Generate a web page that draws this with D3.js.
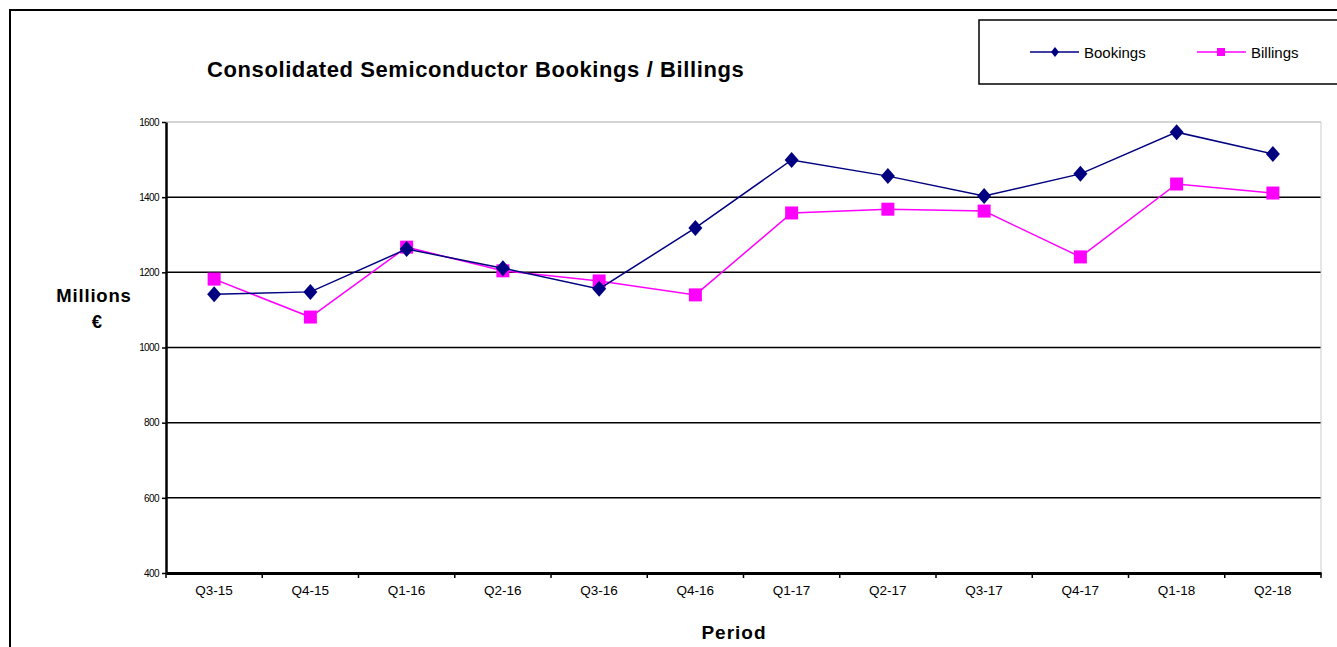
<!DOCTYPE html>
<html><head><meta charset="utf-8">
<script src="https://cdn.jsdelivr.net/npm/d3@7"></script>
<style>body{margin:0;background:#fff;} svg{display:block;font-family:Arial,"Liberation Sans",sans-serif;}</style>
</head><body>
<script>
const categories = ["Q3-15","Q4-15","Q1-16","Q2-16","Q3-16","Q4-16","Q1-17","Q2-17","Q3-17","Q4-17","Q1-18","Q2-18"];
const bookings = [1142,1148,1262,1211,1156,1318,1499,1456,1403,1462,1573,1515];
const billings = [1182,1081,1267,1204,1177,1140,1358,1368,1363,1241,1435,1411];
const yTicks = [400,600,800,1000,1200,1400,1600];

const W=1337,H=647;
const svg=d3.select("body").append("svg").attr("width",W).attr("height",H);
// outer border
svg.append("rect").attr("x",10).attr("y",10).attr("width",1340).attr("height",660)
  .attr("fill","none").attr("stroke","#000").attr("stroke-width",2);

const L=166,R=1321,T=122,B=573;
const x=d3.scaleBand().domain(categories).range([L,R]);
const y=d3.scaleLinear().domain([400,1600]).range([B,T]);

// gridlines
svg.append("g").selectAll("line").data(yTicks.filter(v=>v>400)).join("line")
  .attr("x1",L).attr("x2",R).attr("y1",d=>y(d)).attr("y2",d=>y(d))
  .attr("stroke",d=>d===1600?"#aaa":"#000").attr("stroke-width",d=>d===1600?1:1.5);
// right edge
svg.append("line").attr("x1",R).attr("x2",R).attr("y1",T).attr("y2",B).attr("stroke","#ccc").attr("stroke-width",1);

// y axis
const ya=svg.append("g").attr("transform",`translate(${L},0)`)
  .call(d3.axisLeft(y).tickValues(yTicks).tickFormat(d3.format("d")).tickSize(4).tickPadding(3).tickSizeOuter(0));
ya.select(".domain").attr("stroke","#000").attr("stroke-width",2.5);
ya.selectAll(".tick line").attr("stroke","#000").attr("stroke-width",1.5);
ya.selectAll("text").attr("font-size",10).attr("fill","#000").style("letter-spacing","-0.6px");

// x axis
const xa=svg.append("g").attr("transform",`translate(0,${B})`)
  .call(d3.axisBottom(x).tickSize(0).tickPadding(12).tickSizeOuter(0));
xa.select(".domain").attr("stroke","#000").attr("stroke-width",3);
xa.selectAll("text").attr("font-size",13.5).attr("fill","#000");
svg.append("g").selectAll("line").data(categories.concat([null])).join("line")
  .attr("x1",(d,i)=>L+i*x.step()).attr("x2",(d,i)=>L+i*x.step())
  .attr("y1",B).attr("y2",B+5).attr("stroke","#000").attr("stroke-width",1.5);

const cx=d=>x(d)+x.bandwidth()/2;
const line=d3.line().x((d,i)=>cx(categories[i])).y(d=>y(d));

// Billings
svg.append("path").datum(billings).attr("d",line).attr("fill","none").attr("stroke","#ff00ff").attr("stroke-width",1.5);
svg.append("g").selectAll("rect").data(billings).join("rect")
  .attr("x",(d,i)=>cx(categories[i])-6.5).attr("y",d=>y(d)-6.5).attr("width",13).attr("height",13).attr("fill","#ff00ff");
// Bookings
svg.append("path").datum(bookings).attr("d",line).attr("fill","none").attr("stroke","#000080").attr("stroke-width",1.5);
svg.append("g").selectAll("path.m").data(bookings).join("path")
  .attr("d",(d,i)=>{const px=cx(categories[i]),py=y(d);return `M${px},${py-8}L${px+7},${py}L${px},${py+8}L${px-7},${py}Z`;})
  .attr("fill","#000080");

// Title
svg.append("text").attr("x",207).attr("y",77).attr("font-size",22).attr("font-weight","bold").attr("fill","#000")
  .style("letter-spacing","0.6px").text("Consolidated Semiconductor Bookings / Billings");
// y label
svg.append("text").attr("x",94).attr("y",302).attr("text-anchor","middle").attr("font-size",18.5).attr("font-weight","bold").style("letter-spacing","0.8px").text("Millions");
svg.append("text").attr("x",97).attr("y",328).attr("text-anchor","middle").attr("font-size",18.5).attr("font-weight","bold").text("€");
// x label
svg.append("text").attr("x",734).attr("y",639).attr("text-anchor","middle").attr("font-size",19).attr("font-weight","bold").style("letter-spacing","1px").text("Period");

// Legend
svg.append("rect").attr("x",979).attr("y",20).attr("width",400).attr("height",64).attr("fill","#fff").attr("stroke","#000").attr("stroke-width",1.5);
const lg=svg.append("g");
lg.append("line").attr("x1",1030).attr("x2",1079).attr("y1",52).attr("y2",52).attr("stroke","#000080").attr("stroke-width",1.5);
lg.append("path").attr("d","M1055,47L1059,52L1055,57L1051,52Z").attr("fill","#000080");
lg.append("text").attr("x",1084).attr("y",58).attr("font-size",15).text("Bookings");
lg.append("line").attr("x1",1197).attr("x2",1246).attr("y1",52).attr("y2",52).attr("stroke","#ff00ff").attr("stroke-width",1.5);
lg.append("rect").attr("x",1217).attr("y",48).attr("width",8).attr("height",8).attr("fill","#ff00ff");
lg.append("text").attr("x",1251).attr("y",58).attr("font-size",15).text("Billings");
</script>
</body></html>
